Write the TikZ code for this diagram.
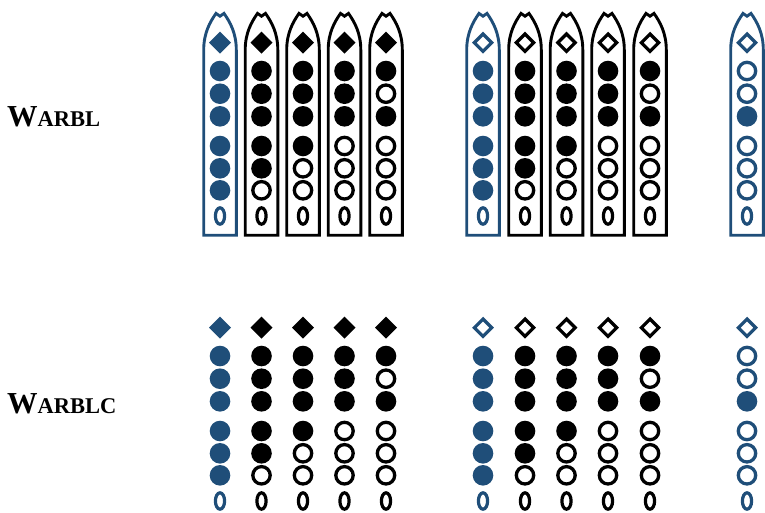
\documentclass[tikz,border=0pt]{standalone}
\usepackage{fontspec}
\setmainfont{Liberation Serif}
\definecolor{wblue}{RGB}{31,78,121}
\newcommand\wbhole[4]{% x, y, colour, state
  \ifnum#4=1 \fill[#3] (#1,#2) circle[radius=10.3];
  \else \draw[#3,line width=3.3] (#1,#2) circle[radius=8.7];\fi}
\newcommand\wbthumb[4]{%
  \ifnum#4=1 \fill[#3] (#1,#2-11) -- (#1+11,#2) -- (#1,#2+11) -- (#1-11,#2) -- cycle;
  \else \draw[#3,line width=3.2,line join=miter] (#1,#2-8.7) -- (#1+8.7,#2) -- (#1,#2+8.7) -- (#1-8.7,#2) -- cycle;\fi}
\newcommand\wboutline[2]{% x, colour
  \draw[#2,line width=2.9,line join=miter]
    (#1-16.3,235.2) -- (#1-16.3,50)
    .. controls (#1-16.3,33) and (#1-10,22) .. (#1-4,13.4)
    -- (#1,16.2) -- (#1+4,13.4)
    .. controls (#1+10,22) and (#1+16.3,33) .. (#1+16.3,50)
    -- (#1+16.3,235.2) -- cycle;}
\tikzset{wblabel/.style={anchor=base west,inner sep=0pt,font=\bfseries}}
\begin{document}
\begin{tikzpicture}[x=1pt,y=-1pt]
\useasboundingbox (0,0) rectangle (765,512);
\node[wblabel] (lw) at (7,126.5) {{\fontsize{30.5}{30.5}\selectfont W}{\fontsize{22.5}{22.5}\selectfont ARBL}};
\node[wblabel] (lwc) at (7,413) {{\fontsize{30.5}{30.5}\selectfont W}{\fontsize{22.5}{22.5}\selectfont ARBLC}};
\foreach \yo/\ol in {0/1,285/0}{
 \foreach \x/\c/\t/\a/\b/\d/\e/\f/\g in {
   220/wblue/1/1/1/1/1/1/1, 261.5/black/1/1/1/1/1/1/0, 303/black/1/1/1/1/1/0/0,
   344.5/black/1/1/1/1/0/0/0, 386/black/1/1/0/1/0/0/0,
   483/wblue/0/1/1/1/1/1/1, 525/black/0/1/1/1/1/1/0, 566.5/black/0/1/1/1/1/0/0,
   608/black/0/1/1/1/0/0/0, 650/black/0/1/0/1/0/0/0,
   747/wblue/0/0/0/1/0/0/0}{
   \ifnum\ol=1 \wboutline{\x}{\c}\fi
   \wbthumb{\x}{42.7+\yo}{\c}{\t}
   \wbhole{\x}{71+\yo}{\c}{\a}
   \wbhole{\x}{93.7+\yo}{\c}{\b}
   \wbhole{\x}{116.3+\yo}{\c}{\d}
   \wbhole{\x}{146+\yo}{\c}{\e}
   \wbhole{\x}{168.3+\yo}{\c}{\f}
   \wbhole{\x}{190.3+\yo}{\c}{\g}
   \draw[\c,line width=3.2] (\x,216+\yo) ellipse[x radius=4.6,y radius=8.2];
 }
}
\end{tikzpicture}
\end{document}
